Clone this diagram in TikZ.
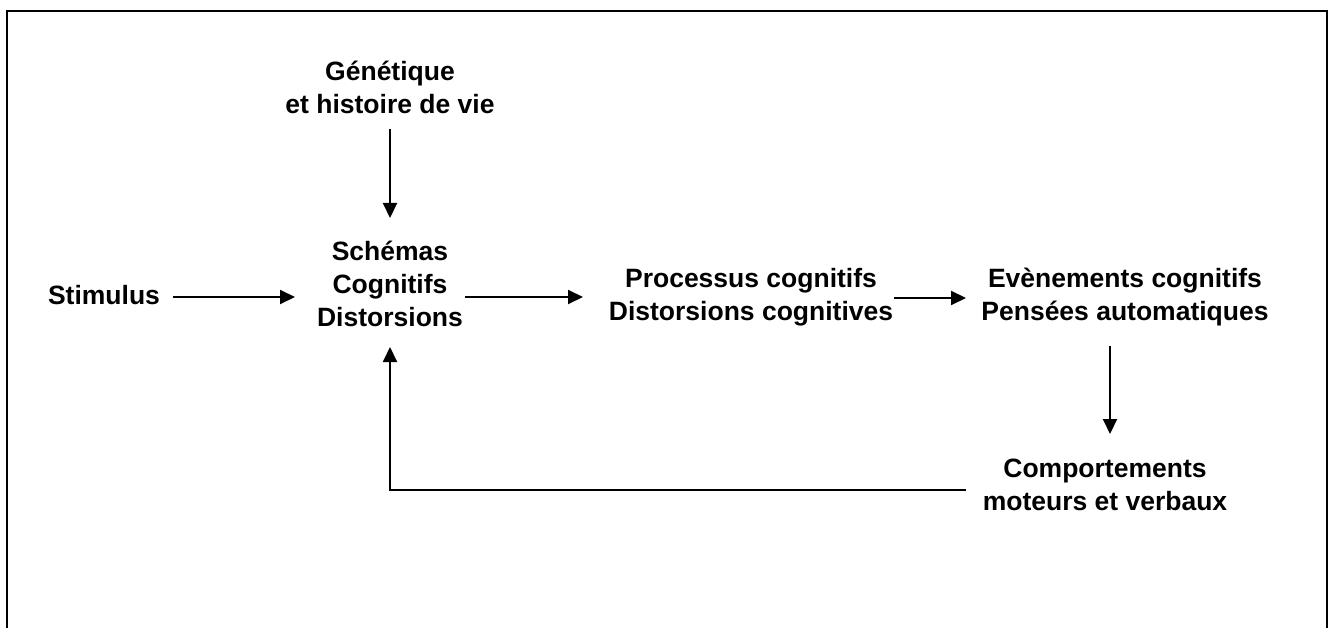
\documentclass[tikz,border=0pt]{standalone}
\usepackage{fontspec}
\setmainfont{Liberation Sans}
\usetikzlibrary{arrows.meta,calc}
\tikzset{
  lbl/.style={font=\fontsize{26.5}{33}\selectfont\bfseries, align=center, inner sep=0pt},
  arr/.style={line width=2pt, -{Triangle[length=15pt,width=14pt]}},
  frame/.style={line width=2.5pt}
}
\begin{document}
\begin{tikzpicture}[x=1pt,y=-1pt]
\useasboundingbox (0,0) rectangle (1330,628);
\fill[white] (0,0) rectangle (1330,628);
\draw[frame] (7,640) -- (7,11) -- (1327,11) -- (1327,640);

\node[lbl] (gen)  at (390,87)  {Génétique\\et histoire de vie};
\node[lbl] (sch)  at (390,284) {Schémas\\Cognitifs\\Distorsions};
\node[lbl] (stim) at (104,295) {Stimulus};
\node[lbl] (proc) at (751,297) {Processus cognitifs\\Distorsions cognitives};
\node[lbl] (evt)  at (1125,297) {Evènements cognitifs\\Pensées automatiques};
\node[lbl] (comp) at (1105,485) {Comportements\\moteurs et verbaux};

\draw[arr] ($(gen.center)+(0,42)$) -- ($(sch.center)+(0,-66)$);
\draw[arr] ($(stim.center)+(69,2)$) -- ($(sch.center)+(-95,13)$);
\draw[arr] ($(sch.center)+(75,13)$) -- ($(proc.center)+(-168,0)$);
\draw[arr] ($(proc.center)+(143,1)$) -- ($(evt.center)+(-159,1)$);
\draw[arr] ($(evt.center)+(-15,49)$) -- ($(comp.center)+(5,-51)$);
\draw[arr] ($(comp.center)+(-139,5)$) -- ($(sch.center)+(0,206)$) -- ($(sch.center)+(0,63)$);
\end{tikzpicture}
\end{document}
